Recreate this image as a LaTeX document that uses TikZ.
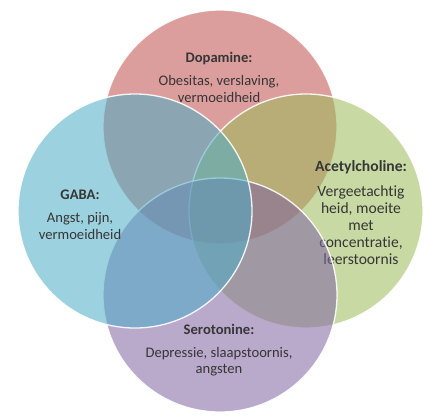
\documentclass[tikz,border=0pt]{standalone}
\usepackage{fontspec}
\setmainfont{Carlito}[Ligatures=NoCommon]
\definecolor{dopred}{HTML}{C0504D}
\definecolor{achgreen}{HTML}{9BBB59}
\definecolor{serpurple}{HTML}{8064A2}
\definecolor{gababblue}{HTML}{4BACC6}
\definecolor{labelgray}{HTML}{363636}
\tikzset{
  venn/.style={circle, minimum size=234pt, inner sep=0pt,
    fill opacity=0.55, draw=white, draw opacity=0.9, line width=1.3pt},
  vlabel/.style={text=labelgray, align=center, inner sep=0pt,
    font=\fontsize{14.6}{16.3}\selectfont},
  vlabelbig/.style={vlabel, font=\fontsize{15.6}{17.2}\selectfont}
}
\begin{document}
\begin{tikzpicture}[x=1pt,y=-1pt]
  \useasboundingbox[fill=white] (0,0) rectangle (425,418);

  % Dopamine (top)
  \node[venn, fill=dopred] (dop) at (220,127) {};
  \node[vlabel] (doptxt) at (219,77)
    {\textbf{Dopamine:}\\[7.5pt]Obesitas, verslaving,\\vermoeidheid};

  % Acetylcholine (right)
  \node[venn, fill=achgreen] (ach) at (306,211) {};
  \node[vlabelbig] (achtxt) at (361,213)
    {\textbf{Acetylcholine:}\\[7pt]Vergeetachtig\\heid, moeite\\met\\concentratie,\\leerstoornis};

  % Serotonine (bottom)
  \node[venn, fill=serpurple] (ser) at (220,295) {};
  \node[vlabel] (sertxt) at (219,350)
    {\textbf{Serotonine:}\\[7pt]Depressie, slaapstoornis,\\angsten};

  % GABA (left)
  \node[venn, fill=gababblue] (gaba) at (135,211) {};
  \node[vlabel] (gabatxt) at (80,214.5)
    {\textbf{GABA:}\\[7pt]Angst, pijn,\\vermoeidheid};
\end{tikzpicture}
\end{document}
